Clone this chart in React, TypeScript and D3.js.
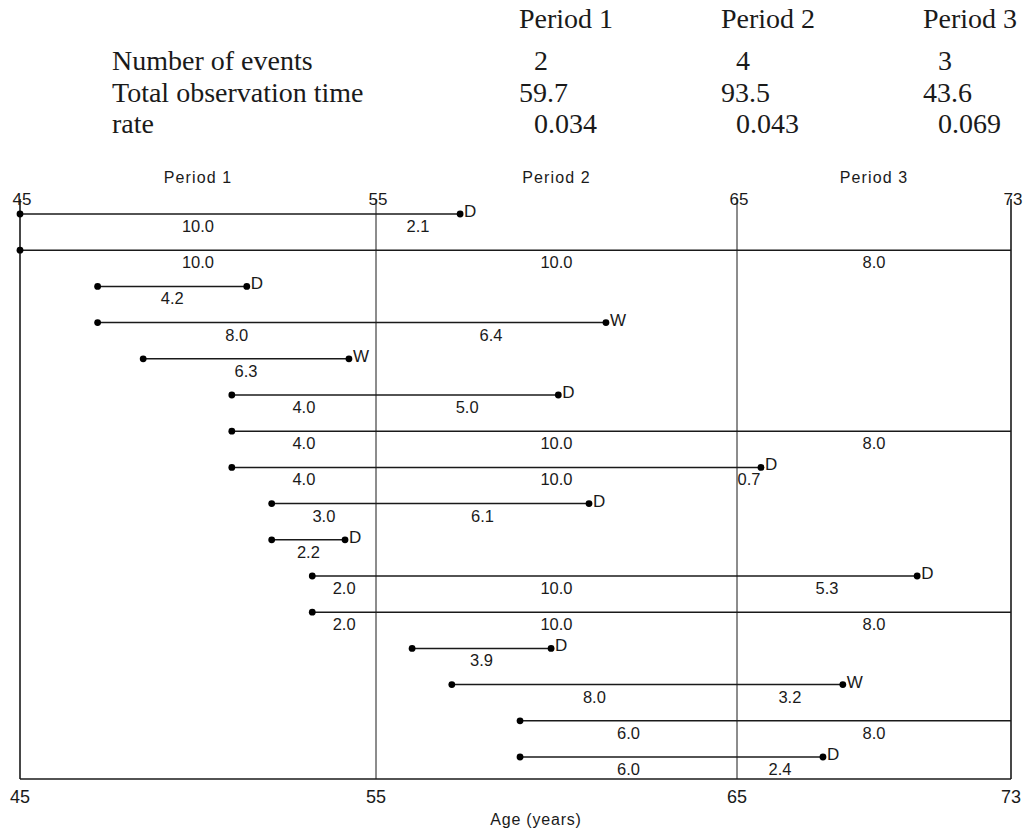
import React from 'react';
import * as d3 from 'd3';

// ---- Summary table data ----
const periodNames = ['Period 1', 'Period 2', 'Period 3'];
const tableRowLabels = ['Number of events', 'Total observation time', 'rate'];
const eventCounts = [2, 4, 3];
const totalTimes = [59.7, 93.5, 43.6];
const rates = [0.034, 0.043, 0.069];

// ---- Period boundaries (ages) ----
const periodBounds = [45, 55, 65, 73];

// ---- Subjects ----
const subjectIds = d3.range(1, 17);
const entryAges = [45.0, 45.0, 47.18, 47.18, 48.46, 50.95, 50.95, 50.95, 52.07, 52.07, 53.21, 53.21, 56.0, 57.1, 58.99, 58.99];
const exitAges = [57.33, 73, 51.37, 61.37, 54.24, 60.05, 73, 65.7, 60.9, 54.13, 70.26, 73, 59.85, 68.09, 73, 67.51];
const exitStatus = ['D', '', 'D', 'W', 'W', 'D', '', 'D', 'D', 'D', 'D', '', 'D', 'W', '', 'D'];
const timeInPeriod1 = [10.0, 10.0, 4.2, 8.0, 6.3, 4.0, 4.0, 4.0, 3.0, 2.2, 2.0, 2.0, null, null, null, null];
const timeInPeriod2 = [2.1, 10.0, null, 6.4, null, 5.0, 10.0, 10.0, 6.1, null, 10.0, 10.0, 3.9, 8.0, 6.0, 6.0];
const timeInPeriod3 = [null, 8.0, null, null, null, null, 8.0, 0.7, null, null, 5.3, 8.0, null, 3.2, 8.0, 2.4];

const W = 1023;
const H = 830;

export default function App() {
  const x = d3.scaleLinear().domain(periodBounds).range([20, 376, 737, 1011]);
  const y = d3.scalePoint<number>().domain(subjectIds).range([214, 757]);
  const colX = d3.scaleLinear().domain([0, 2]).range([519, 923]);
  const rowY = d3.scaleLinear().domain([0, 2]).range([70, 133]);
  const fmt1 = d3.format('.1f');
  const fmt3 = d3.format('.3f');

  const axisY = 779;
  const lineTop = 199;
  const serif = '"Liberation Serif", "Times New Roman", serif';
  const sans = '"Liberation Sans", Arial, Helvetica, sans-serif';
  const ink = '#1a1a1a';

  const periodTimes = [timeInPeriod1, timeInPeriod2, timeInPeriod3];
  const tableValues = [
    eventCounts.map((d) => String(d)),
    totalTimes.map((d) => fmt1(d)),
    rates.map((d) => fmt3(d)),
  ];
  const valueIndent = [15, 0, 15];

  return (
    <svg
      width={W}
      height={H}
      style={{ position: 'absolute', left: 0, top: 0, background: '#fff' }}
    >
      <rect width={W} height={H} fill="#fff" />
      {/* Summary table */}
      <g fontFamily={serif} fontSize={28} fill={ink}>
        {periodNames.map((p, i) => (
          <text key={p} x={colX(i)} y={28}>
            {p}
          </text>
        ))}
        {tableRowLabels.map((l, r) => (
          <g key={l}>
            <text x={112} y={rowY(r)}>
              {l}
            </text>
            {tableValues[r].map((v, i) => (
              <text key={i} x={colX(i) + valueIndent[r]} y={rowY(r)}>
                {v}
              </text>
            ))}
          </g>
        ))}
      </g>

      {/* Period headers in chart */}
      <g fontFamily={sans} fontSize={16} fill={ink} letterSpacing={1.1} textAnchor="middle">
        {periodNames.map((p, i) => (
          <text key={p} x={(x(periodBounds[i]) + x(periodBounds[i + 1])) / 2} y={183}>
            {p}
          </text>
        ))}
      </g>

      {/* Vertical period lines */}
      {periodBounds.map((b, i) => (
        <line
          key={b}
          x1={x(b)}
          x2={x(b)}
          y1={lineTop}
          y2={axisY}
          stroke={ink}
          strokeWidth={i === 0 || i === 3 ? 1.6 : 1}
        />
      ))}
      {/* Bottom axis */}
      <line x1={x(45)} x2={x(73)} y1={axisY} y2={axisY} stroke={ink} strokeWidth={1.6} />

      {/* Top tick labels */}
      <g fontFamily={sans} fontSize={17} fill={ink} textAnchor="middle">
        {periodBounds.map((b) => (
          <text key={b} x={x(b) + 2} y={205}>
            {b}
          </text>
        ))}
      </g>
      {/* Bottom tick labels */}
      <g fontFamily={sans} fontSize={18} fill={ink} textAnchor="middle">
        {periodBounds.map((b) => (
          <text key={b} x={x(b)} y={803}>
            {b}
          </text>
        ))}
      </g>
      <text
        x={536}
        y={825}
        fontFamily={sans}
        fontSize={16}
        letterSpacing={0.8}
        fill={ink}
        textAnchor="middle"
      >
        Age (years)
      </text>

      {/* Subjects */}
      {subjectIds.map((id, i) => {
        const yy = y(id) as number;
        const a0 = entryAges[i];
        const a1 = exitAges[i];
        return (
          <g key={id}>
            <line x1={x(a0)} x2={x(a1)} y1={yy} y2={yy} stroke={ink} strokeWidth={1.5} />
            <circle cx={x(a0)} cy={yy} r={3.4} fill="#000" />
            {exitStatus[i] !== '' && (
              <>
                <circle cx={x(a1)} cy={yy} r={3.4} fill="#000" />
                <text
                  x={x(a1) + 4}
                  y={yy + 3}
                  fontFamily={sans}
                  fontSize={17}
                  fill={ink}
                >
                  {exitStatus[i]}
                </text>
              </>
            )}
            {periodTimes.map((arr, p) => {
              const v = arr[i];
              if (v === null) return null;
              const s = Math.max(a0, periodBounds[p]);
              const e = Math.min(a1, periodBounds[p + 1]);
              return (
                <text
                  key={p}
                  x={(x(s) + x(e)) / 2}
                  y={yy + 18}
                  fontFamily={sans}
                  fontSize={16.5}
                  fill={ink}
                  textAnchor="middle"
                >
                  {fmt1(v)}
                </text>
              );
            })}
          </g>
        );
      })}
    </svg>
  );
}
